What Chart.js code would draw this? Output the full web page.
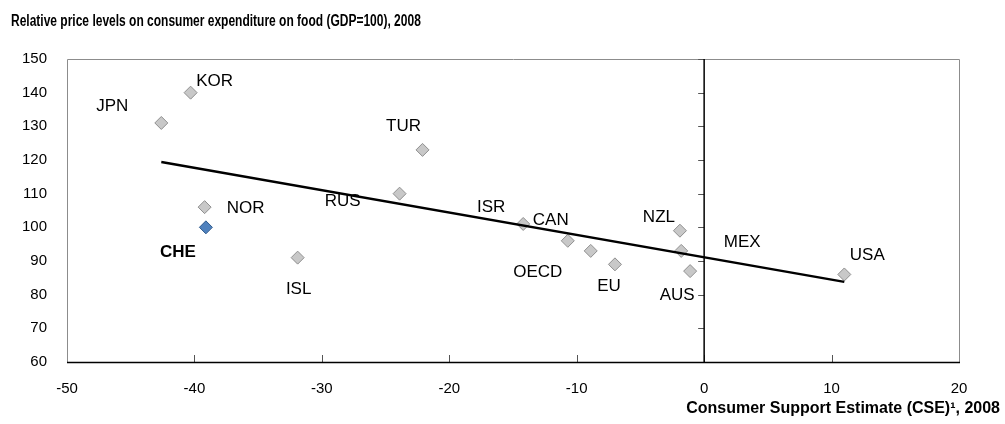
<!DOCTYPE html>
<html>
<head>
<meta charset="utf-8">
<script src="https://cdn.jsdelivr.net/npm/chart.js@4.4.0/dist/chart.umd.min.js"></script>
<style>
    html, body { margin: 0; padding: 0; background: #ffffff; }
    canvas { display: block; }
</style>
</head>
<body>
<canvas id="chart" width="1005" height="424"></canvas>
<script>
// values
const countries = ["JPN", "KOR", "NOR", "CHE", "ISL", "RUS", "TUR", "ISR", "CAN", "OECD", "EU", "NZL", "MEX", "AUS", "USA"];
const cseValues = [-42.6, -40.3, -39.2, -39.1, -31.9, -23.9, -22.1, -14.2, -10.7, -8.9, -7.0, -1.9, -1.8, -1.1, 11.0];
const priceLevels = [131, 140, 106, 100, 91, 110, 123, 101, 96, 93, 89, 99, 93, 87, 86];
const highlight = "CHE";

// trend line end points
const trendX = [-42.6, 11.0];
const trendY = [119.4, 83.8];

const xTicks = [-50, -40, -30, -20, -10, 0, 10, 20];
const yTicks = [60, 70, 80, 90, 100, 110, 120, 130, 140, 150];

// where each country label sits relative to its marker (pixels)
const labelOffsets = [
    [-49, -17], [24, -11], [41, 1], [-28, 25], [1, 32], [-57, 8], [-19, -24],
    [-32, -17], [-17, -20], [-53, 21], [-6, 22], [-21, -13], [61, -9], [-13, 24], [23, -19],
];

const FONT = "'Liberation Sans', Arial, sans-serif";

const points = countries.map((c, i) => ({x: cseValues[i], y: priceLevels[i]}));
const trend = trendX.map((x, i) => ({x: x, y: trendY[i]}));

// frame, zero line, tick marks, texts
const framePlugin = {
    id: "frame",
    beforeDatasetsDraw(chart) {
        const {ctx, chartArea: a, scales} = chart;
        const x0 = scales.x.getPixelForValue(0);
        ctx.save();
        ctx.strokeStyle = "#8c8c8c";
        ctx.lineWidth = 1;
        ctx.beginPath();
        ctx.moveTo(a.left + 0.5, a.bottom);
        ctx.lineTo(a.left + 0.5, a.top + 0.5);
        ctx.lineTo(a.right + 0.5, a.top + 0.5);
        ctx.lineTo(a.right + 0.5, a.bottom);
        ctx.stroke();

        // tick marks on the zero line
        ctx.strokeStyle = "#555555";
        yTicks.forEach((v) => {
            const y = Math.round(scales.y.getPixelForValue(v)) + 0.5;
            ctx.beginPath();
            ctx.moveTo(x0 - 6, y);
            ctx.lineTo(x0, y);
            ctx.stroke();
        });
        // tick marks on the bottom axis
        xTicks.slice(1, -1).forEach((v) => {
            const x = Math.round(scales.x.getPixelForValue(v)) + 0.5;
            ctx.beginPath();
            ctx.moveTo(x, a.bottom);
            ctx.lineTo(x, a.bottom - 7);
            ctx.stroke();
        });

        ctx.strokeStyle = "#000000";
        ctx.lineWidth = 1.5;
        ctx.beginPath();
        ctx.moveTo(x0, a.top);
        ctx.lineTo(x0, a.bottom);
        ctx.stroke();
        ctx.beginPath();
        ctx.moveTo(a.left, a.bottom + 0.5);
        ctx.lineTo(a.right + 1, a.bottom + 0.5);
        ctx.stroke();
        ctx.restore();
    },
    afterDatasetsDraw(chart) {
        const {ctx} = chart;
        const meta = chart.getDatasetMeta(1);
        ctx.save();
        ctx.fillStyle = "#000000";
        ctx.textAlign = "center";
        ctx.textBaseline = "middle";
        countries.forEach((c, i) => {
            const pt = meta.data[i];
            ctx.font = (c === highlight ? "bold " : "") + "17px " + FONT;
            ctx.fillText(c, pt.x + labelOffsets[i][0], pt.y + labelOffsets[i][1]);
        });

        ctx.font = "bold 16px " + FONT;
        ctx.textAlign = "right";
        ctx.fillText("Consumer Support Estimate (CSE)\u00B9, 2008", 1000, 409);

        // chart title, squeezed like a narrow face
        ctx.textAlign = "left";
        ctx.font = "bold 16px " + FONT;
        ctx.translate(11, 22);
        ctx.scale(0.75, 1);
        ctx.fillText("Relative price levels on consumer expenditure on food (GDP=100), 2008", 0, 0);
        ctx.restore();
    },
};

new Chart(document.getElementById("chart"), {
    type: "scatter",
    data: {
        datasets: [
            {
                type: "line",
                data: trend,
                borderColor: "#000000",
                borderWidth: 2.5,
                pointRadius: 0,
                fill: false,
            },
            {
                data: points,
                pointStyle: "rectRot",
                pointRadius: 6.5,
                pointBackgroundColor: countries.map((c) => (c === highlight ? "#4f81bd" : "#c8c8c8")),
                pointBorderColor: countries.map((c) => (c === highlight ? "#2f5a8c" : "#8f8f8f")),
                pointBorderWidth: 1,
            },
        ],
    },
    options: {
        responsive: false,
        animation: false,
        devicePixelRatio: 1,
        layout: {padding: {top: 59, right: 46, left: 0, bottom: 0}},
        plugins: {legend: {display: false}, tooltip: {enabled: false}},
        scales: {
            x: {
                type: "linear",
                min: -50,
                max: 20,
                afterFit: (s) => { s.height = 62; },
                afterBuildTicks: (s) => { s.ticks = xTicks.map((v) => ({value: v})); },
                grid: {display: false, drawTicks: false},
                border: {display: false},
                ticks: {padding: 18, color: "#000000", font: {family: FONT, size: 15}},
            },
            y: {
                type: "linear",
                min: 60,
                max: 150,
                afterFit: (s) => { s.width = 67; },
                afterBuildTicks: (s) => { s.ticks = yTicks.map((v) => ({value: v})); },
                grid: {display: false, drawTicks: false},
                border: {display: false},
                ticks: {padding: 20, color: "#000000", font: {family: FONT, size: 15}},
            },
        },
    },
    plugins: [framePlugin],
});
</script>
</body>
</html>
